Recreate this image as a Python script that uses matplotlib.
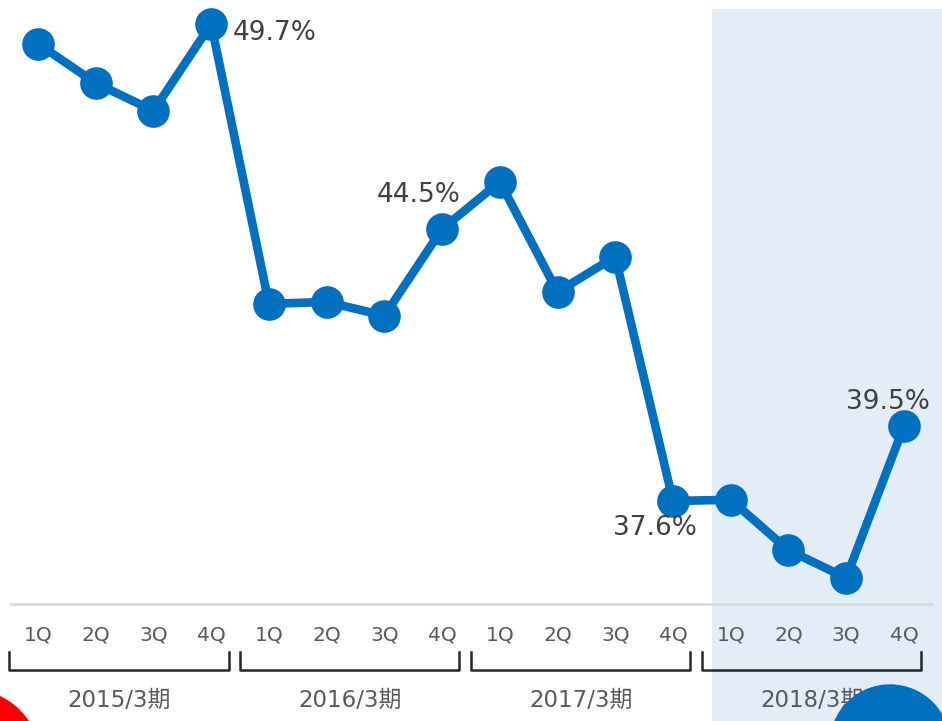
import matplotlib
matplotlib.use("Agg")
import matplotlib.pyplot as plt
from matplotlib.patches import Circle
from matplotlib.transforms import blended_transform_factory

plt.rcParams['font.family'] = ['DejaVu Sans', 'Noto Sans CJK JP']

# ---- data ----
groups = ["2015/3期", "2016/3期", "2017/3期", "2018/3期"]
quarters = ["1Q", "2Q", "3Q", "4Q"]
values = [49.2, 48.2, 47.5, 49.7,
          42.6, 42.65, 42.3, 44.5,
          45.7, 42.9, 43.8, 37.6,
          37.63, 36.35, 35.65, 39.5]
labels = {3: "49.7%", 7: "44.5%", 11: "37.6%", 15: "39.5%"}
highlight_group = 3

W, H = 942, 721
fig = plt.figure(figsize=(W / 100, H / 100), dpi=100)
ax = fig.add_axes([0, 0, 1, 1])
ax.set_xlim(-0.658, 15.659)
ax.set_ylim(32.018, 50.309)
ax.axis("off")

x = list(range(len(values)))
line_color = "#0070C0"

# highlighted period background
ax.axvspan(11.675, 15.8, ymin=0, ymax=1 - 9 / H, color="#E2EDF8", zorder=0, lw=0)

# baseline
ax.hlines(34.98, -0.5, 15.5, color="#D9D9D9", lw=2, zorder=1)

# line
ax.plot(x, values, color=line_color, lw=6.2, marker="o", markersize=23.5,
        markeredgewidth=0, solid_joinstyle="miter", zorder=3)

# value labels
offsets = {3: (15.5, -6.5, "left"), 7: (13, 24.5, "right"),
           11: (-13, -19.5, "center"), 15: (-11.5, 17.3, "center")}
for i, txt in labels.items():
    dx, dy, ha = offsets[i]
    ax.annotate(txt, (i, values[i]), xytext=(dx, dy), textcoords="offset points",
                ha=ha, va="center", fontsize=19, color="#404040", zorder=4)

# quarter tick labels and group brackets
tr = blended_transform_factory(ax.transData, fig.transFigure)
for g, gname in enumerate(groups):
    for q, qname in enumerate(quarters):
        ax.text(4 * g + q, 1 - 635 / H, qname, transform=tr, ha="center",
                va="center", fontsize=14.5, color="#595959")
    x0, x1 = 4 * g - 0.5, 4 * g + 3.3
    ytop, ybot = 1 - 652 / H, 1 - 670 / H
    ax.plot([x0, x0, x1, x1], [ytop, ybot, ybot, ytop], transform=tr,
            color="#262626", lw=1.8, clip_on=False, zorder=2)
    ax.text((x0 + x1) / 2, 1 - 700 / H, gname, transform=tr, ha="center",
            va="center", fontsize=16.5, color="#595959")

# decorative circles
fig.patches.append(Circle((-0.30, -0.39), 0.70, transform=fig.dpi_scale_trans,
                          color="#FF0000", zorder=10))
fig.patches.append(Circle((8.90, -0.24), 0.60, transform=fig.dpi_scale_trans,
                          color=line_color, zorder=10))

fig.savefig("out.png", dpi=100)
